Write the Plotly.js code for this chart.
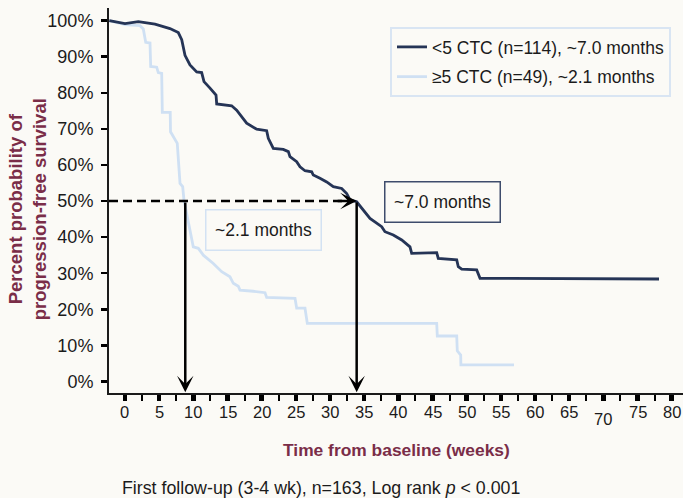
<!DOCTYPE html>
<html>
<head>
<meta charset="utf-8">
<script src="https://cdn.plot.ly/plotly-3.0.1.min.js"></script>
<style>
html,body{margin:0;padding:0;background:#fbfaf6;}
#chart{width:683px;height:498px;}
</style>
</head>
<body>
<div id="chart"></div>
<script>
// ---- data (weeks, percent) ----
var lowWeeks = [-2.3, 0.0, 1.95, 4.39, 6.58, 7.80, 8.30, 8.78, 9.51, 10.49, 11.22, 11.56, 12.44, 13.32, 13.42, 15.61, 16.34, 17.80, 19.27, 20.73, 20.97, 21.70, 23.16, 23.90, 24.14, 25.12, 25.61, 26.34, 27.32, 27.55, 28.53, 29.51, 30.48, 31.71, 32.44, 32.92, 33.90, 34.87, 35.85, 37.56, 38.04, 39.26, 40.49, 41.70, 41.95, 45.61, 45.84, 48.54, 48.77, 49.27, 51.46, 51.95, 78.14];
var lowPct   = [100, 99.2, 99.7, 99.0, 97.8, 96.7, 94.7, 90.4, 87.7, 85.8, 85.6, 83.1, 81.3, 79.4, 76.9, 76.4, 75.2, 71.6, 69.9, 69.5, 67.4, 64.6, 64.3, 63.7, 62.3, 60.9, 59.5, 58.4, 58.1, 57.2, 56.3, 55.3, 54.0, 53.5, 52.1, 50.3, 49.8, 47.5, 45.2, 42.9, 41.5, 40.6, 39.2, 37.3, 35.5, 35.7, 34.1, 33.7, 31.8, 31.1, 30.9, 28.6, 28.4];

var highWeeks = [-2.3, 0.0, 2.19, 2.68, 3.03, 3.66, 3.76, 4.64, 4.87, 5.37, 5.46, 6.62, 6.66, 7.65, 8.05, 8.44, 8.63, 9.26, 9.99, 10.73, 11.46, 12.92, 14.15, 15.36, 15.85, 16.58, 16.83, 18.77, 20.49, 20.73, 24.88, 25.12, 26.34, 26.68, 45.61, 45.70, 48.54, 48.62, 49.12, 49.15, 56.92];
var highPct   = [100, 98.9, 98.6, 97.7, 94.0, 93.8, 87.3, 87.1, 85.6, 85.4, 74.6, 74.6, 69.2, 66.0, 54.9, 54.0, 50.3, 44.7, 37.3, 36.9, 35.0, 32.7, 30.4, 29.0, 27.2, 26.4, 25.3, 25.0, 24.6, 23.3, 23.0, 20.3, 20.3, 16.1, 16.1, 12.6, 12.6, 8.5, 7.3, 4.6, 4.6];

var seriesNames = ["&lt;5 CTC (n=114), ~7.0 months", "≥5 CTC (n=49), ~2.1 months"];
var medianWeeks = [33.9, 8.82];          // dark, light
var medianLabels = ["~7.0 months", "~2.1 months"];
var yTickVals = [0, 10, 20, 30, 40, 50, 60, 70, 80, 90, 100];
var yTickText = ["0%", "10%", "20%", "30%", "40%", "50%", "60%", "70%", "80%", "90%", "100%"];
var xTickVals = [0, 5, 10, 15, 20, 25, 30, 35, 40, 45, 50, 55, 60, 65, 70, 75, 80];
var xTickText = ["0","5","10","15","20","25","30","35","40","45","50","55","60","65","70","75","80"];

// ---- styles ----
var FONT = "'Liberation Sans', Arial, Helvetica, sans-serif";
var DARK = "#253456";
var LIGHT = "#cfe0f3";
var MAROON = "#7a2d48";
var INK = "#1b1b1b";
var BG = "#fbfaf6";

var traces = [
  {x: highWeeks, y: highPct, mode: "lines", name: seriesNames[1], legendgroup: "g2", legendrank: 2,
   line: {color: LIGHT, width: 2.8}, hoverinfo: "skip"},
  {x: lowWeeks, y: lowPct, mode: "lines", name: seriesNames[0], legendgroup: "g1", legendrank: 1,
   line: {color: DARK, width: 2.8}, hoverinfo: "skip"}
];

var annotations = [];
// x tick labels (70 sits lower in the reference)
xTickVals.forEach(function (v, i) {
  annotations.push({x: v, y: 0, xref: "x", yref: "paper", text: xTickText[i],
    showarrow: false, xanchor: "center", yanchor: "top",
    yshift: (xTickText[i] === "70") ? -15 : -8,
    font: {family: FONT, size: 16.5, color: INK}});
});
// vertical median arrows
medianWeeks.forEach(function (m) {
  annotations.push({x: m, y: -3.0, xref: "x", yref: "y", ax: m, ay: 50, axref: "x", ayref: "y",
    showarrow: true, arrowhead: 3, arrowsize: 1.1, arrowwidth: 2.5, arrowcolor: "#000", standoff: 0, text: ""});
});
// horizontal arrow head at the dark-curve median
annotations.push({x: medianWeeks[0], y: 50, xref: "x", yref: "y", ax: medianWeeks[0] - 3, ay: 50, axref: "x", ayref: "y",
  showarrow: true, arrowhead: 3, arrowsize: 1.1, arrowwidth: 2.5, arrowcolor: "#000", standoff: 0, text: ""});
// median label boxes
annotations.push({x: 46.5, y: 49.7, xref: "x", yref: "y", text: medianLabels[0], showarrow: false,
  font: {family: FONT, size: 17.5, color: INK}, bordercolor: "#3e4c6c", borderwidth: 1.5,
  borderpad: 3, width: 108, height: 33, bgcolor: BG});
annotations.push({x: 20.2, y: 42.1, xref: "x", yref: "y", text: medianLabels[1], showarrow: false,
  font: {family: FONT, size: 17.5, color: INK}, bordercolor: "#d3e2f3", borderwidth: 1.5,
  borderpad: 3, width: 108, height: 33, bgcolor: BG});
// axis titles & footnote
annotations.push({x: -0.1406, y: 0.478, xref: "paper", yref: "paper", textangle: -90,
  text: "<b>Percent probability of</b><br><b>progression-free survival</b>", showarrow: false,
  font: {family: FONT, size: 18.5, color: MAROON}, xanchor: "center", yanchor: "middle"});
annotations.push({x: 0.5012, y: -0.1487, xref: "paper", yref: "paper",
  text: "<b>Time from baseline (weeks)</b>", showarrow: false,
  font: {family: FONT, size: 17.4, color: MAROON}, xanchor: "center", yanchor: "middle"});
annotations.push({x: 0.370, y: -0.2468, xref: "paper", yref: "paper",
  text: "First follow-up (3-4 wk), n=163, Log rank <i>p</i> &lt; 0.001", showarrow: false,
  font: {family: FONT, size: 17.8, color: INK}, xanchor: "center", yanchor: "middle"});

var layout = {
  width: 683, height: 498,
  margin: {l: 109, r: 0, t: 8, b: 105, pad: 0},
  paper_bgcolor: BG, plot_bgcolor: BG,
  showlegend: true,
  legend: {x: 0.4895, y: 0.9506, xanchor: "left", yanchor: "top", traceorder: "grouped",
    bgcolor: BG, bordercolor: "#d9e5f3", borderwidth: 2,
    font: {family: FONT, size: 17.5, color: INK}, tracegroupgap: 4},
  xaxis: {range: [-2.34, 81.65], showgrid: false, zeroline: false,
    showline: true, linecolor: INK, linewidth: 2,
    tickmode: "array", tickvals: xTickVals, showticklabels: false,
    ticks: "outside", ticklen: 6, tickwidth: 4.5, tickcolor: "#000",
    minor: {tickmode: "linear", tick0: 0, dtick: 2.5, ticks: "outside", ticklen: 6, tickwidth: 2, tickcolor: "#000", showgrid: false}},
  yaxis: {range: [-3.2, 103.5], showgrid: false, zeroline: false,
    showline: true, linecolor: INK, linewidth: 2,
    tickmode: "array", tickvals: yTickVals, ticktext: yTickText,
    ticks: "outside", ticklen: 6, tickwidth: 2.5, tickcolor: "#000",
    ticklabelstandoff: 4,
    tickfont: {family: FONT, size: 18, color: INK}},
  shapes: [],
  annotations: annotations
};
// dashed line ends at the dark-curve median (data coordinates)
layout.shapes.push({type: "line", xref: "x", yref: "y", x0: -2.34, x1: medianWeeks[0] - 0.6, y0: 50, y1: 50,
  line: {color: "#000", width: 2.5, dash: "9px,5px"}});

Plotly.newPlot("chart", traces, layout, {staticPlot: true, displayModeBar: false});
</script>
</body>
</html>
